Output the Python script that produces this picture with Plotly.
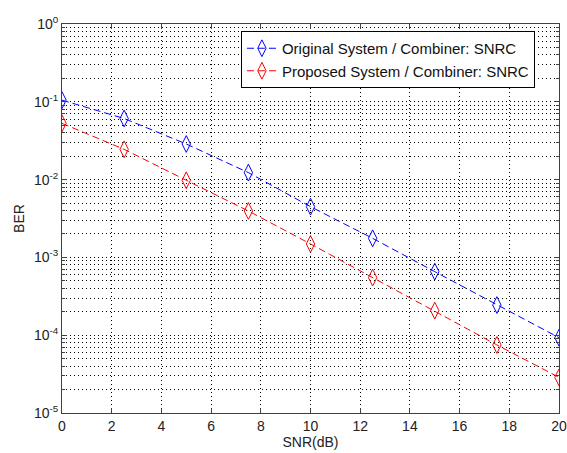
import plotly.graph_objects as go

snr = [0, 2.5, 5, 7.5, 10, 12.5, 15, 17.5, 20]
ber_original = [0.105, 0.061, 0.0287, 0.0123, 0.00449, 0.00176, 0.000656, 0.000244, 0.000093]
ber_proposed = [0.0529, 0.0245, 0.0098, 0.00395, 0.00149, 0.00055, 0.000207, 0.000075, 0.0000287]

x_ticks = list(range(0, 21, 2))
y_ticks = [1e-5, 1e-4, 1e-3, 1e-2, 1e-1, 1e0]
y_ticktext = ["10<sup>-5</sup>", "10<sup>-4</sup>", "10<sup>-3</sup>", "10<sup>-2</sup>", "10<sup>-1</sup>", "10<sup>0</sup>"]

names = ["Original System / Combiner: SNRC", "Proposed System / Combiner: SNRC"]
colors = ["#0000FF", "#FF0000"]

FONT = "Liberation Sans, Arial"

fig = go.Figure()
for ys, nm, c in zip([ber_original, ber_proposed], names, colors):
    fig.add_trace(go.Scatter(
        x=snr, y=ys, name=nm, mode="lines+markers",
        line=dict(color=c, width=1, dash="7px,4px"),
        marker=dict(symbol="diamond-tall-open", size=12, color=c, line=dict(width=1, color=c)),
    ))

axis_common = dict(
    showline=True, linecolor="#404040", linewidth=1, mirror="allticks",
    ticks="inside", ticklen=5, tickcolor="#404040",
    showgrid=True, gridcolor="#000000", griddash="1px,3px", gridwidth=1,
    zeroline=False, tickfont=dict(family=FONT, size=14, color="#222"),
)

fig.update_xaxes(range=[0, 20], tickvals=x_ticks, **axis_common,
                 title=dict(text="SNR(dB)", font=dict(family=FONT, size=14, color="#222"), standoff=3))
fig.update_yaxes(type="log", range=[-5, 0], tickvals=y_ticks, ticktext=y_ticktext, **axis_common,
                 minor=dict(dtick="D1", showgrid=True, gridcolor="#000000", griddash="1px,3px", gridwidth=1,
                            ticks="inside", ticklen=3, tickcolor="#404040"),
                 title=dict(text="BER", font=dict(family=FONT, size=14, color="#222"), standoff=6))

fig.update_layout(
    width=567, height=453,
    margin=dict(l=62, r=8, t=24, b=40, autoexpand=False),
    paper_bgcolor="white", plot_bgcolor="white",
    showlegend=True,
    legend=dict(x=0.36, y=0.982, xanchor="left", yanchor="top",
                bgcolor="white", bordercolor="#000000", borderwidth=1,
                font=dict(family=FONT, size=15, color="#111"),
                entrywidth=270, entrywidthmode="pixels",
                tracegroupgap=0),
)

fig.write_html(
    "out.html",
    config={"displayModeBar": False},
    post_script="document.body.style.margin='0';document.body.style.overflow='hidden';",
)
